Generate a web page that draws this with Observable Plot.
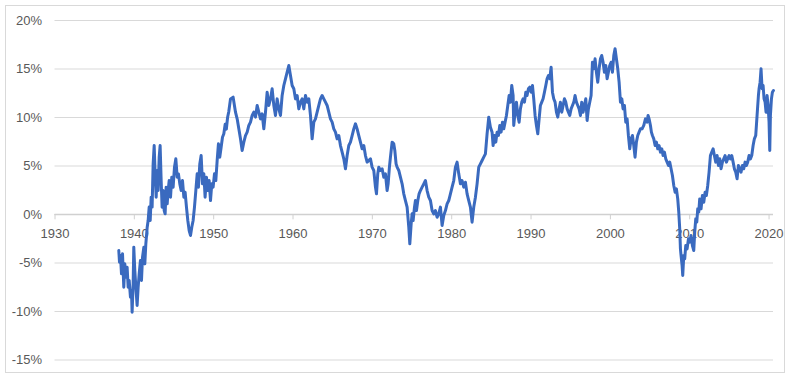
<!DOCTYPE html>
<html>
<head>
<meta charset="utf-8">
<script src="https://cdn.jsdelivr.net/npm/d3@7"></script>
<script src="https://cdn.jsdelivr.net/npm/@observablehq/plot@0.6"></script>
<style>
  html, body { margin: 0; padding: 0; background: #ffffff; }
  #wrap { position: relative; width: 790px; height: 380px; }
  #border { position: absolute; left: 5px; top: 5px; width: 780px; height: 368px; box-sizing: border-box; border: 1px solid #d9d9d9; }
  #chart { position: absolute; left: 0; top: 0; }
</style>
</head>
<body>
<div id="wrap"><div id="border"></div><div id="chart"></div></div>
<script>
const xTickYears = [1930, 1940, 1950, 1960, 1970, 1980, 1990, 2000, 2010, 2020];
const yTickValues = [-15, -10, -5, 0, 5, 10, 15, 20];

const years = [
1938.04,1938.13,1938.25,1938.38,1938.51,1938.67,1938.80,1938.93,1939.09,1939.22,1939.35,1939.51,1939.64,1939.72,1939.85,1939.93,
1940.06,1940.19,1940.35,1940.48,1940.61,1940.77,1940.90,1941.03,1941.20,1941.32,1941.45,1941.62,1941.74,1941.87,1942.00,1942.12,
1942.24,1942.37,1942.50,1942.62,1942.75,1942.88,1943.00,1943.13,1943.25,1943.38,1943.50,1943.63,1943.76,1943.88,1944.01,1944.14,
1944.26,1944.39,1944.56,1944.72,1944.89,1945.06,1945.23,1945.40,1945.56,1945.73,1945.90,1946.07,1946.24,1946.40,1946.57,1946.74,
1946.91,1947.08,1947.24,1947.41,1947.58,1947.75,1947.92,1948.08,1948.25,1948.42,1948.59,1948.76,1948.92,1949.09,1949.26,1949.43,
1949.60,1949.76,1949.93,1950.10,1950.27,1950.44,1950.60,1950.77,1950.94,1951.11,1951.28,1951.45,1951.60,1951.75,1951.90,1952.00,
1952.12,1952.45,1952.75,1952.96,1953.17,1953.38,1953.59,1953.80,1954.01,1954.22,1954.43,1954.64,1954.85,1955.06,1955.27,1955.48,
1955.69,1955.90,1956.11,1956.32,1956.53,1956.74,1956.95,1957.16,1957.37,1957.58,1957.79,1958.00,1958.21,1958.42,1958.63,1958.84,
1959.05,1959.26,1959.47,1959.68,1959.89,1960.10,1960.31,1960.52,1960.73,1960.94,1961.15,1961.36,1961.57,1961.78,1961.99,1962.20,
1962.41,1962.62,1962.83,1963.04,1963.25,1963.46,1963.67,1963.88,1964.09,1964.30,1964.51,1964.72,1964.93,1965.14,1965.35,1965.56,
1965.77,1965.98,1966.19,1966.40,1966.61,1966.82,1967.03,1967.24,1967.45,1967.66,1967.87,1968.08,1968.29,1968.50,1968.71,1968.92,
1969.13,1969.34,1969.76,1969.97,1970.18,1970.39,1970.52,1970.68,1970.81,1971.02,1971.23,1971.44,1971.65,1971.86,1971.99,1972.15,
1972.28,1972.49,1972.70,1972.83,1972.99,1973.12,1973.33,1973.54,1973.75,1973.96,1974.17,1974.38,1974.59,1974.72,1974.89,1975.01,
1975.14,1975.31,1975.43,1975.56,1975.73,1975.89,1976.06,1976.27,1976.48,1976.69,1976.90,1977.11,1977.32,1977.53,1977.74,1977.95,
1978.16,1978.37,1978.58,1978.79,1979.00,1979.21,1979.42,1979.63,1979.84,1980.05,1980.26,1980.47,1980.68,1980.89,1981.10,1981.31,
1981.52,1981.73,1981.94,1982.15,1982.36,1982.57,1982.78,1982.99,1983.20,1983.41,1983.62,1983.83,1984.04,1984.25,1984.46,1984.67,
1984.88,1985.09,1985.22,1985.39,1985.56,1985.72,1985.89,1986.06,1986.23,1986.40,1986.56,1986.73,1986.90,1987.07,1987.24,1987.40,
1987.57,1987.74,1987.82,1987.99,1988.16,1988.33,1988.50,1988.66,1988.83,1989.00,1989.17,1989.34,1989.50,1989.67,1989.84,1990.01,
1990.18,1990.34,1990.51,1990.68,1990.85,1991.02,1991.18,1991.35,1991.52,1991.69,1991.86,1992.02,1992.19,1992.36,1992.53,1992.70,
1992.86,1993.03,1993.20,1993.37,1993.54,1993.70,1993.87,1994.04,1994.21,1994.38,1994.55,1994.71,1994.88,1995.05,1995.22,1995.39,
1995.55,1995.72,1995.89,1996.06,1996.23,1996.39,1996.56,1996.73,1996.90,1997.07,1997.23,1997.40,1997.57,1997.74,1997.91,1998.07,
1998.24,1998.41,1998.58,1998.75,1998.91,1999.08,1999.25,1999.42,1999.59,1999.75,1999.92,2000.09,2000.26,2000.43,2000.59,2000.76,
2000.93,2001.10,2001.27,2001.44,2001.60,2001.77,2001.94,2002.11,2002.27,2002.44,2002.61,2002.78,2002.95,2003.11,2003.28,2003.45,
2003.62,2003.79,2004.00,2004.21,2004.42,2004.63,2004.75,2004.88,2005.05,2005.17,2005.30,2005.47,2005.64,2005.80,2005.97,2006.14,
2006.31,2006.48,2006.64,2006.81,2006.98,2007.15,2007.32,2007.48,2007.65,2007.82,2007.99,2008.16,2008.32,2008.49,2008.62,2008.74,
2008.83,2008.91,2009.04,2009.12,2009.25,2009.37,2009.50,2009.67,2009.84,2010.00,2010.17,2010.34,2010.51,2010.63,2010.76,2010.89,
2011.01,2011.14,2011.26,2011.43,2011.60,2011.77,2011.94,2012.10,2012.27,2012.44,2012.61,2012.78,2012.95,2013.11,2013.28,2013.45,
2013.62,2013.79,2013.95,2014.12,2014.29,2014.46,2014.63,2014.79,2014.96,2015.13,2015.30,2015.47,2015.63,2015.80,2015.97,2016.14,
2016.31,2016.47,2016.64,2016.81,2016.98,2017.15,2017.31,2017.48,2017.65,2017.82,2017.99,2018.15,2018.32,2018.49,2018.66,2018.74,
2018.87,2018.99,2019.12,2019.25,2019.37,2019.50,2019.62,2019.75,2019.88,2020.00,2020.09,2020.17,2020.30,2020.42,2020.55
];

const values = [
-3.71,-4.91,-4.23,-6.12,-4.05,-7.49,-5.09,-6.46,-5.43,-7.49,-6.80,-8.52,-7.83,-10.07,-7.15,-3.37,
-5.77,-7.49,-9.38,-7.49,-6.12,-4.74,-6.80,-4.40,-3.37,-5.09,-3.02,-1.31,-0.62,0.76,-0.62,1.79,
0.76,5.22,7.11,4.19,1.79,4.54,2.47,5.91,7.11,3.50,0.76,2.47,0.41,0.07,2.82,1.10,
2.47,3.50,1.79,3.85,2.82,4.88,5.74,3.85,4.19,3.16,2.47,3.50,1.79,2.30,0.76,-0.62,
-1.65,-2.16,-1.31,-0.62,0.76,2.47,4.19,2.82,5.22,6.08,3.16,4.19,1.79,3.85,2.47,3.50,
1.44,3.16,2.82,4.19,3.50,5.57,7.29,5.91,6.94,7.97,8.32,9.30,8.80,10.00,10.60,11.20,
11.92,12.10,10.55,9.86,8.83,7.80,6.60,7.46,8.14,8.49,9.18,9.52,10.21,10.55,10.04,11.24,
10.55,9.86,10.38,8.83,10.55,12.61,11.24,11.92,12.96,11.24,10.21,11.92,10.89,10.21,12.27,13.30,
13.99,14.67,15.36,14.33,13.30,12.96,11.92,12.27,10.89,11.58,11.92,10.89,12.27,11.58,11.92,10.21,
7.80,9.52,9.86,10.55,11.24,11.92,12.27,11.92,11.58,11.24,10.55,9.86,9.52,8.83,8.49,7.80,
8.14,7.11,6.43,5.74,4.71,6.08,7.11,7.46,8.14,8.83,9.35,8.83,8.14,7.46,6.77,7.11,
6.08,5.40,5.74,4.88,4.54,2.82,2.13,4.19,4.88,4.54,4.71,3.85,4.19,2.47,3.16,4.88,
5.91,7.46,7.28,6.60,5.22,4.88,4.54,3.85,3.16,2.13,1.44,0.76,-1.31,-3.02,-0.96,0.07,
-0.62,0.76,1.44,0.41,1.44,2.13,2.47,2.82,3.16,3.50,2.47,1.79,1.44,0.41,0.07,0.41,
-0.28,0.07,0.76,-1.13,-0.10,0.41,1.10,1.44,2.13,2.82,3.50,4.88,5.40,4.19,3.16,3.50,
2.82,3.33,2.13,1.44,0.76,-0.79,0.76,1.79,3.16,4.88,5.22,5.57,5.91,6.25,8.32,10.03,
9.00,8.49,7.11,8.15,7.46,8.49,8.15,9.18,8.49,9.52,8.83,9.52,10.21,11.24,12.27,11.58,
13.30,12.27,9.18,10.55,11.58,10.21,9.52,10.89,11.58,11.93,11.58,12.61,12.27,12.96,13.13,12.61,
13.30,11.93,10.21,9.18,8.32,9.86,11.24,11.58,11.93,12.61,13.30,13.99,14.33,13.99,15.19,12.61,
11.93,11.58,10.55,10.04,10.89,11.58,10.55,11.24,11.93,11.58,10.89,10.55,10.21,10.89,11.24,11.58,
12.27,11.58,11.24,10.89,10.21,11.58,10.55,11.24,11.93,9.69,10.89,11.58,12.27,15.70,15.02,16.05,
14.67,13.64,15.02,16.05,16.39,15.70,14.67,15.36,13.99,14.67,15.36,15.70,14.67,16.39,17.08,16.05,
15.02,13.64,11.58,11.93,10.89,11.24,9.52,9.86,8.15,6.77,7.80,8.15,7.11,5.91,7.46,8.15,
8.49,8.83,8.83,9.18,9.86,9.52,10.21,9.86,9.18,8.49,8.14,7.80,7.11,7.46,6.77,7.11,
6.43,6.77,6.08,6.43,5.74,5.40,5.05,5.40,4.71,4.02,2.99,2.30,2.65,1.61,0.24,-1.48,
-3.54,-4.23,-5.26,-6.29,-4.23,-4.57,-3.20,-3.54,-2.51,-2.85,-2.16,-3.20,-3.71,-1.82,-0.45,-0.79,
0.58,0.24,1.61,0.58,1.96,1.27,2.30,1.96,2.99,4.37,6.08,6.43,6.77,6.08,5.40,6.08,
5.05,5.74,4.71,5.40,5.74,6.08,5.40,5.74,6.08,5.74,6.08,5.40,4.71,4.37,3.68,5.05,
4.71,4.37,5.05,4.71,5.40,5.05,5.40,6.08,5.74,6.08,7.11,7.80,8.14,10.21,12.27,12.96,
13.64,15.02,12.96,13.30,11.92,11.58,10.55,12.27,11.24,9.52,6.60,10.21,11.92,12.61,12.78
];

const series = years.map((y, i) => ({year: y, value: values[i]}));

const textColor = "#595959";
const gridColor = "#d9d9d9";

const chart = Plot.plot({
  width: 790,
  height: 380,
  marginLeft: 54.5,
  marginRight: 17,
  marginTop: 20,
  marginBottom: 20.5,
  x: {domain: [1930, 2020.56], axis: null, label: null},
  y: {domain: [-15, 20], axis: null, label: null},
  style: {fontFamily: "'Liberation Sans', Arial, sans-serif", fontSize: "13px", background: "transparent", overflow: "visible"},
  marks: [
    Plot.ruleY(yTickValues, {stroke: gridColor, strokeWidth: 1}),
    Plot.ruleY([0], {stroke: "#d0d0d0", strokeWidth: 1.5}),
    Plot.ruleX(xTickYears, {x: d => d, y1: 0, y2: -0.55, stroke: "#d0d0d0", strokeWidth: 1}),
    Plot.text(yTickValues, {y: d => d, frameAnchor: "left", dx: -13, textAnchor: "end", text: d => d + "%", fill: textColor, fontSize: 13}),
    Plot.text(xTickYears, {x: d => d, y: 0, dy: 19.5, text: d => String(d), fill: textColor, fontSize: 13}),
    Plot.line(series, {x: "year", y: "value", stroke: "#3a6abf", strokeWidth: 3, strokeLinejoin: "round"})
  ]
});
document.getElementById("chart").appendChild(chart);
</script>
</body>
</html>
